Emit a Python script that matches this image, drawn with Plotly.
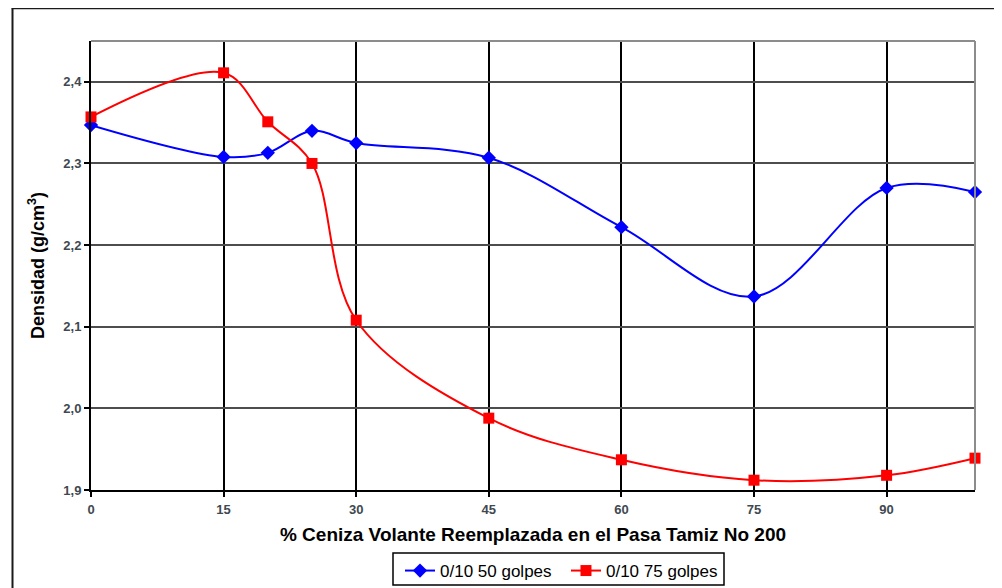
import plotly.graph_objects as go

x_vals = [0, 15, 20, 25, 30, 45, 60, 75, 90, 100]
golpes50 = [2.347, 2.308, 2.313, 2.340, 2.325, 2.307, 2.222, 2.137, 2.270, 2.265]
golpes75 = [2.357, 2.411, 2.351, 2.300, 2.108, 1.988, 1.937, 1.912, 1.918, 1.939]
x_ticks = [0, 15, 30, 45, 60, 75, 90]
y_ticks = [1.9, 2.0, 2.1, 2.2, 2.3, 2.4]
series_names = ["0/10 50 golpes", "0/10 75 golpes"]

fig = go.Figure()
fig.add_trace(go.Scatter(
    x=x_vals, y=golpes50, name=series_names[0] + "\u00a0\u00a0", mode="lines+markers",
    line=dict(color="#0000FF", width=2, shape="spline", smoothing=1.0),
    marker=dict(symbol="diamond", size=11, color="#0000FF"),
    cliponaxis=False,
))
fig.add_trace(go.Scatter(
    x=x_vals, y=golpes75, name=series_names[1], mode="lines+markers",
    line=dict(color="#FF0000", width=2, shape="spline", smoothing=1.0),
    marker=dict(symbol="square", size=11, color="#FF0000"),
    cliponaxis=False,
))

# page body has an 8px margin, so the figure is sized/positioned to compensate
OFF = 8
W, H = 1002 - OFF, 588 - OFF
ml, mr, mt, mb = 91 - OFF, W - (975 - OFF), 41 - OFF, H - (490 - OFF)
pw, ph = W - ml - mr, H - mt - mb

def px(xs):
    return (xs - OFF - ml) / pw

def py(ys):
    return (H - mb - (ys - OFF)) / ph

shapes = [
    dict(type="line", xref="paper", yref="paper", x0=0, x1=1, y0=1, y1=1,
         line=dict(color="#8c8c8c", width=2)),
    dict(type="line", xref="paper", yref="paper", x0=1, x1=1, y0=0, y1=1,
         line=dict(color="#8c8c8c", width=2)),
    # outer chart border
    dict(type="line", xref="paper", yref="paper", x0=px(12.5), x1=px(12.5), y0=py(8.5), y1=py(600),
         line=dict(color="#1a1a1a", width=2)),
    dict(type="line", xref="paper", yref="paper", x0=px(11.5), x1=px(1010), y0=py(8.5), y1=py(8.5),
         line=dict(color="#1a1a1a", width=1.5)),
    # legend box
    dict(type="rect", xref="paper", yref="paper", x0=px(393), x1=px(724), y0=py(553), y1=py(585),
         line=dict(color="#000000", width=1.5), fillcolor="rgba(0,0,0,0)"),
]

fig.update_layout(
    width=W, height=H,
    margin=dict(l=ml, r=mr, t=mt, b=mb, autoexpand=False),
    paper_bgcolor="white", plot_bgcolor="white",
    separators=",.",
    font=dict(family="Liberation Sans, Arial, sans-serif", color="#000000"),
    showlegend=True,
    legend=dict(
        orientation="h", x=px(400), y=py(553), xanchor="left", yanchor="top",
        borderwidth=0, bgcolor="rgba(0,0,0,0)", font=dict(size=17, color="#000000"),
        traceorder="normal", itemwidth=30,
    ),
    shapes=shapes,
    xaxis=dict(
        range=[0, 100], tickvals=x_ticks, ticktext=[str(v) for v in x_ticks],
        showgrid=True, gridcolor="#000000", gridwidth=1.5,
        showline=True, linecolor="#000000", linewidth=2,
        ticks="outside", ticklen=5, tickcolor="#000000", tickwidth=1.5,
        tickfont=dict(size=13, color="#404850", weight="bold"),
        ticklabelstandoff=1,
        zeroline=False,
        title=dict(text="<b>% Ceniza Volante Reemplazada en el Pasa Tamiz No 200</b>",
                   font=dict(size=19, color="#000000"), standoff=12),
    ),
    yaxis=dict(
        range=[1.9, 2.45], tickvals=y_ticks, tickformat=".1f",
        showgrid=True, gridcolor="#4d4d4d", gridwidth=1.5,
        showline=True, linecolor="#000000", linewidth=2,
        ticks="outside", ticklen=5, tickcolor="#000000", tickwidth=1.5,
        tickfont=dict(size=13, color="#404850", weight="bold"),
        zeroline=False,
        title=dict(text="<b>Densidad (g/cm<sup>3</sup>)</b>",
                   font=dict(size=18, color="#000000"), standoff=14),
    ),
)

fig.write_html("out.html")
